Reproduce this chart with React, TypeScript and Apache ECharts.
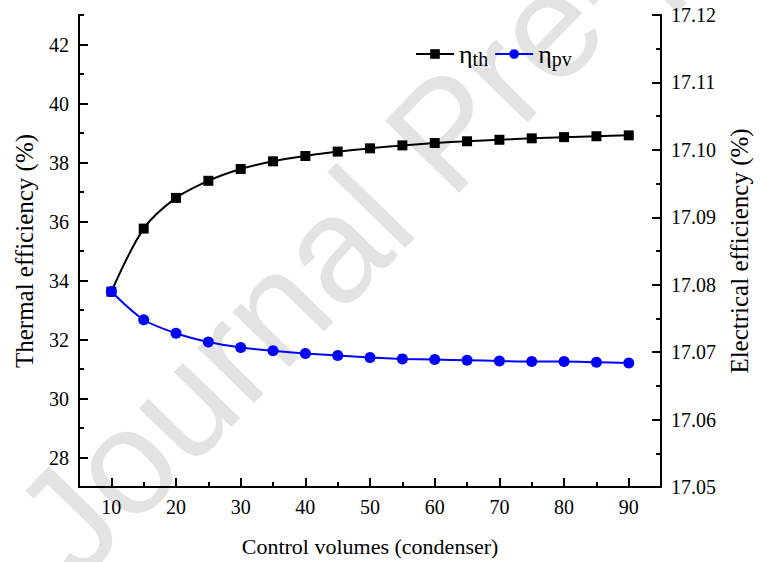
import React, { useEffect, useRef } from "react";
import * as echarts from "echarts";

const xValues = [10, 15, 20, 25, 30, 35, 40, 45, 50, 55, 60, 65, 70, 75, 80, 85, 90];
const thermalEff = [33.62, 35.76, 36.8, 37.38, 37.78, 38.04, 38.22, 38.37, 38.48, 38.58, 38.66, 38.72, 38.77, 38.82, 38.86, 38.89, 38.92];
const electricalEff = [17.079, 17.0748, 17.0728, 17.0715, 17.0707, 17.0702, 17.0698, 17.0695, 17.0692, 17.069, 17.0689, 17.0688, 17.0687, 17.0686, 17.0686, 17.0685, 17.0684];
const xMajorTicks = [10, 20, 30, 40, 50, 60, 70, 80, 90];
const xMinorTicks = [15, 25, 35, 45, 55, 65, 75, 85];
const leftMajorTicks = [28, 30, 32, 34, 36, 38, 40, 42];
const leftMinorTicks = [27, 29, 31, 33, 35, 37, 39, 41, 43];

const FONT = "'Times New Roman', 'Liberation Serif', serif";

export default function App() {
  const ref = useRef<HTMLDivElement>(null);
  useEffect(() => {
    if (!ref.current) return;
    const chart = echarts.init(ref.current, undefined, { renderer: "svg" });
    const axisLineStyle = { color: "#000", width: 2 };
    const labelStyle = { color: "#000", fontFamily: FONT, fontSize: 20 };
    const nameStyle = { color: "#000", fontFamily: FONT, fontSize: 22 };
    const yNameStyle = { color: "#000", fontFamily: FONT, fontSize: 25 };
    chart.setOption({
      animation: false,
      backgroundColor: "#fff",
      graphic: [
        {
          type: "text",
          x: 95,
          y: 600,
          rotation: 0.8,
          z: -10,
          silent: true,
          style: {
            text: "Journal Pre-proof",
            fontFamily: "'Liberation Sans', Arial, sans-serif",
            fontSize: 150,
            fill: "#e3e3e3",
            textVerticalAlign: "bottom",
          },
        },
      ],
      grid: { left: 79, right: 92, top: 15, bottom: 74, containLabel: false },
      legend: {
        left: 410,
        top: 36,
        itemWidth: 38,
        itemHeight: 12,
        itemGap: 6,
        textStyle: {
          color: "#000",
          fontFamily: FONT,
          fontSize: 22,
          rich: {
            a: { fontFamily: FONT, fontSize: 26, color: "#000" },
            s: { fontFamily: FONT, fontSize: 20, color: "#000", padding: [10, 0, 0, 0] },
          },
        },
        formatter: (name: string) => (name === "th" ? "{a|η}{s|th}" : "{a|η}{s|pv}"),
        data: ["th", "pv"],
      },
      xAxis: [
        {
          type: "value",
          min: 5,
          max: 95,
          name: "Control volumes (condenser)",
          nameLocation: "middle",
          nameGap: 48,
          nameTextStyle: nameStyle,
          axisLine: { show: true, lineStyle: axisLineStyle },
          axisTick: { show: true, inside: true, length: 9, lineStyle: axisLineStyle, customValues: xMajorTicks },
          axisLabel: { ...labelStyle, margin: 10, customValues: xMajorTicks },
          splitLine: { show: false },
        },
        {
          type: "value",
          min: 5,
          max: 95,
          position: "bottom",
          axisLine: { show: false },
          axisTick: { show: true, inside: true, length: 5, lineStyle: axisLineStyle, customValues: xMinorTicks },
          axisLabel: { show: false },
          splitLine: { show: false },
        },
      ],
      yAxis: [
        {
          type: "value",
          min: 27,
          max: 43,
          position: "left",
          name: "Thermal efficiency (%)",
          nameLocation: "middle",
          nameGap: 42,
          nameTextStyle: yNameStyle,
          axisLine: { show: true, lineStyle: axisLineStyle },
          axisTick: { show: true, inside: true, length: 9, lineStyle: axisLineStyle, customValues: leftMajorTicks },
          axisLabel: { ...labelStyle, margin: 10, customValues: leftMajorTicks },
          splitLine: { show: false },
        },
        {
          type: "value",
          min: 17.05,
          max: 17.12,
          interval: 0.01,
          position: "right",
          name: "Electrical efficiency (%)",
          nameLocation: "middle",
          nameGap: 64,
          nameTextStyle: yNameStyle,
          axisLine: { show: true, lineStyle: axisLineStyle },
          axisTick: { show: true, inside: true, length: 9, lineStyle: axisLineStyle },
          minorTick: { show: true, splitNumber: 2, length: 5, lineStyle: axisLineStyle },
          axisLabel: { ...labelStyle, margin: 10, formatter: (v: number) => v.toFixed(2) },
          splitLine: { show: false },
        },
        {
          type: "value",
          min: 27,
          max: 43,
          position: "left",
          axisLine: { show: false },
          axisTick: { show: true, inside: true, length: 5, lineStyle: axisLineStyle, customValues: leftMinorTicks },
          axisLabel: { show: false },
          splitLine: { show: false },
        },
      ],
      series: [
        {
          name: "th",
          type: "line",
          yAxisIndex: 0,
          smooth: 0.3,
          data: xValues.map((x, i) => [x, thermalEff[i]]),
          symbol: "rect",
          symbolSize: 10,
          lineStyle: { color: "#000", width: 2 },
          itemStyle: { color: "#000" },
          z: 3,
        },
        {
          name: "pv",
          type: "line",
          yAxisIndex: 1,
          smooth: 0.3,
          data: xValues.map((x, i) => [x, electricalEff[i]]),
          symbol: "circle",
          symbolSize: 11,
          lineStyle: { color: "#0000ff", width: 2 },
          itemStyle: { color: "#0000ff" },
          z: 4,
        },
      ],
    });
    return () => chart.dispose();
  }, []);
  return <div ref={ref} style={{ width: 760, height: 562, position: "absolute", left: 0, top: 0 }} />;
}
